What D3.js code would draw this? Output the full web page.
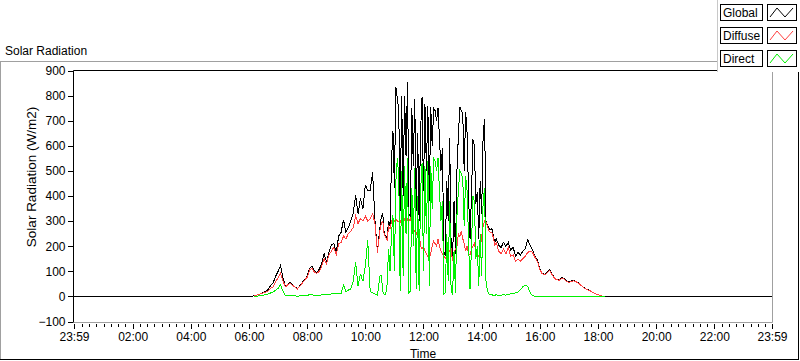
<!DOCTYPE html>
<html><head><meta charset="utf-8">
<script src="https://cdn.jsdelivr.net/npm/d3@7"></script>
<style>
body{margin:0;background:#fff}
svg{display:block}
text{font-family:"Liberation Sans",Arial,sans-serif;font-size:12px;fill:#000}
</style>
</head><body>
<svg id="chart" width="800" height="361"></svg>
<script>
// minutes after midnight (-1 = 23:59 of previous day, 1439 = 23:59)
const times = [-1,
 360,365,370,375,380,385,390,395,400,405,410,415,420,425,430,435,440,445,450,455,
 460,465,470,475,480,485,490,495,500,505,510,515,520,525,530,535,540,545,550,555,
 560,565,570,575,580,585,590,595,600,605,610,615,620,625,630,
 633,636,639,642,645,648,651,654,657,660,663,666,669,672,675,678,681,684,687,690,
 693,696,699,702,705,708,711,714,717,720,723,726,729,732,735,738,741,744,747,750,
 753,756,759,762,765,768,771,774,777,780,783,786,789,792,795,798,801,804,807,810,
 813,816,819,822,825,828,831,834,837,840,843,846,849,852,855,858,861,864,867,870,
 875,880,885,890,895,900,905,910,915,920,925,930,935,940,945,950,955,960,965,970,
 975,980,985,990,995,1000,1005,1010,1015,1020,1025,1030,1035,1040,1045,1050,1055,1060,1065,1070,
 1075,1080,1085,1090,1095,1100,1105,1110,
 1439];

const globalRad = [0,
 0,0,2,5,8,12,16,20,28,45,55,80,100,122,75,40,48,55,45,38,
 30,42,55,68,80,112,122,100,96,108,130,170,138,175,205,210,175,240,255,305,
 255,275,300,330,405,330,390,350,445,420,420,495,300,180,270,
 320,330,250,240,235,300,280,540,660,430,835,790,740,340,800,400,800,560,855,330,
 320,750,520,785,340,650,300,660,795,420,765,500,760,380,755,600,750,740,700,750,
 630,500,590,180,160,460,300,630,200,145,380,170,500,640,755,740,730,500,735,650,
 400,230,400,625,600,370,415,230,460,330,640,705,300,285,270,265,270,245,215,230,
 205,195,215,200,215,185,195,160,175,165,180,190,225,205,185,160,145,110,92,88,
 95,106,90,75,68,66,74,72,62,58,62,64,60,54,45,36,30,26,22,15,
 10,7,4,1,0,0,0,0,
 0];

const diffuseRad = [null,
 null,null,2,5,8,11,14,17,22,32,38,58,75,92,62,38,46,52,44,37,
 30,41,53,65,76,105,112,96,92,100,120,150,130,165,180,196,165,210,215,240,
 230,250,260,275,320,290,310,300,320,300,310,330,290,175,260,
 290,300,245,235,225,280,270,300,310,300,310,300,300,295,310,300,310,280,310,300,
 310,290,270,260,255,240,250,200,190,200,180,170,160,150,170,200,220,210,200,230,
 200,180,170,160,150,160,170,180,190,140,170,190,200,250,240,260,230,210,180,200,
 170,165,190,200,210,180,170,160,190,240,280,300,295,280,260,255,255,235,205,215,
 180,170,190,170,195,160,165,140,150,140,150,160,175,180,175,155,140,108,90,86,
 93,104,88,73,66,64,71,70,60,56,60,62,58,52,44,35,29,25,21,15,
 10,7,4,1,0,null,null,null,
 null];

const directRad = [null,
 null,null,0,1,2,3,5,8,10,14,18,24,32,46,22,4,3,3,2,2,
 1,2,3,4,5,6,6,5,4,5,6,8,6,8,10,12,10,12,12,45,
 20,25,30,60,135,40,90,60,120,225,20,15,10,5,80,
 84,20,8,6,50,190,100,250,324,100,457,551,480,20,500,80,520,250,550,15,
 20,430,200,510,30,400,20,420,530,100,520,250,540,40,520,350,550,540,500,550,
 420,300,380,10,15,250,60,380,20,10,180,15,320,420,500,490,470,280,480,420,
 220,30,200,400,380,150,200,40,250,80,380,430,60,20,10,8,6,5,5,6,
 4,5,6,5,8,10,12,14,18,28,38,45,40,15,3,0,0,0,0,0,
 0,0,0,0,0,0,0,0,0,0,0,0,0,0,0,0,0,0,0,0,
 0,0,0,0,0,null,null,null,
 null];

const seriesNames = ["Global","Diffuse","Direct"];
const seriesColors = ["#000000","#ff4040","#00f000"];
const yTicks = [-100,0,100,200,300,400,500,600,700,800,900];
const xTickMinutes = [-1,120,240,360,480,600,720,840,960,1080,1200,1320,1439];
const xTickLabels = ["23:59","02:00","04:00","06:00","08:00","10:00","12:00","14:00","16:00","18:00","20:00","22:00","23:59"];

const svg = d3.select("#chart");
const L = 73.5, R = 772.5, T = 70.5, B = 322.5;

const x = d3.scaleLinear().domain([-1,1439]).range([74,772]);
const y = d3.scaleLinear().domain([-100,900]).range([321.5,70.5]);

// outer panel
svg.append("text").attr("x",5).attr("y",55).text("Solar Radiation");
svg.append("line").attr("x1",0).attr("x2",800).attr("y1",61.5).attr("y2",61.5).attr("stroke","#a0a0a0");
svg.append("line").attr("x1",0.5).attr("x2",0.5).attr("y1",61).attr("y2",360).attr("stroke","#a0a0a0");
svg.append("line").attr("x1",798.5).attr("x2",798.5).attr("y1",61).attr("y2",360).attr("stroke","#000");
svg.append("line").attr("x1",0).attr("x2",799).attr("y1",359.5).attr("y2",359.5).attr("stroke","#000");

// plot frame
svg.append("line").attr("x1",R).attr("x2",R).attr("y1",T).attr("y2",B).attr("stroke","#a0a0a0");
svg.append("line").attr("x1",L).attr("x2",R).attr("y1",B).attr("y2",B).attr("stroke","#a0a0a0");

// lines
const data = times.map((t,i)=>({t, g:globalRad[i], d:diffuseRad[i], b:directRad[i]}));
const keys = ["g","d","b"];
const plot = svg.append("g");
keys.forEach((k,i)=>{
  const line = d3.line().defined(d=>d[k]!=null).x(d=>x(d.t)).y(d=>y(d[k]));
  plot.append("path").datum(data).attr("d",line)
    .attr("fill","none").attr("stroke",seriesColors[i]).attr("stroke-width",1)
    .attr("shape-rendering","crispEdges");
});

svg.append("line").attr("x1",L).attr("x2",R).attr("y1",T).attr("y2",T).attr("stroke","#000");
svg.append("line").attr("x1",L).attr("x2",L).attr("y1",T).attr("y2",B).attr("stroke","#000");

// y axis
const yAxis = d3.axisLeft(y).tickValues(yTicks).tickSize(5).tickPadding(2);
const gy = svg.append("g").attr("transform","translate(72.5,0)").call(yAxis);
gy.select(".domain").remove();
gy.selectAll("line").attr("stroke","#000").attr("shape-rendering","crispEdges");
gy.selectAll("text").attr("font-size",12).attr("font-family","Liberation Sans, Arial, sans-serif").attr("fill","#000");

// x axis minor
const xMinor = d3.axisBottom(x).tickValues(d3.range(0,1440,15)).tickSize(3).tickFormat("");
const gxm = svg.append("g").attr("transform","translate(0,323.5)").call(xMinor);
gxm.select(".domain").remove();
gxm.selectAll("line").attr("stroke","#000").attr("shape-rendering","crispEdges");
// x axis major
const xAxis = d3.axisBottom(x).tickValues(xTickMinutes).tickSize(5).tickPadding(3.5)
  .tickFormat((d,i)=>xTickLabels[i]);
const gx = svg.append("g").attr("transform","translate(0,323.5)").call(xAxis);
gx.select(".domain").remove();
gx.selectAll("line").attr("stroke","#000").attr("shape-rendering","crispEdges");
gx.selectAll("text").attr("font-size",12).attr("font-family","Liberation Sans, Arial, sans-serif").attr("fill","#000");

// axis titles
svg.append("text").attr("x",423).attr("y",358).attr("text-anchor","middle").text("Time");
svg.append("text").attr("transform","translate(36,177) rotate(-90)").attr("text-anchor","middle")
  .style("font-size","13.5px").text("Solar Radiation (W/m2)");

// legend
const lg = svg.append("g");
lg.append("rect").attr("x",717).attr("y",0).attr("width",83).attr("height",72).attr("fill","#fff");
lg.append("line").attr("x1",717.5).attr("x2",717.5).attr("y1",0).attr("y2",72).attr("stroke","#c8c8c8");
seriesNames.forEach((n,i)=>{
  const oy = 4 + i*23;
  lg.append("rect").attr("x",720.5).attr("y",oy+0.5).attr("width",42).attr("height",16)
    .attr("fill","#fff").attr("stroke","#000");
  lg.append("text").attr("x",723).attr("y",oy+13.3).text(n);
  lg.append("rect").attr("x",767.5).attr("y",oy+0.5).attr("width",29).attr("height",16)
    .attr("fill","#fff").attr("stroke","#000");
  const zz = [[770,oy+13],[777,oy+4],[785,oy+13],[793,oy+4]];
  lg.append("path").attr("d",d3.line()(zz)).attr("fill","none").attr("stroke",seriesColors[i]);
});
</script>
</body></html>
